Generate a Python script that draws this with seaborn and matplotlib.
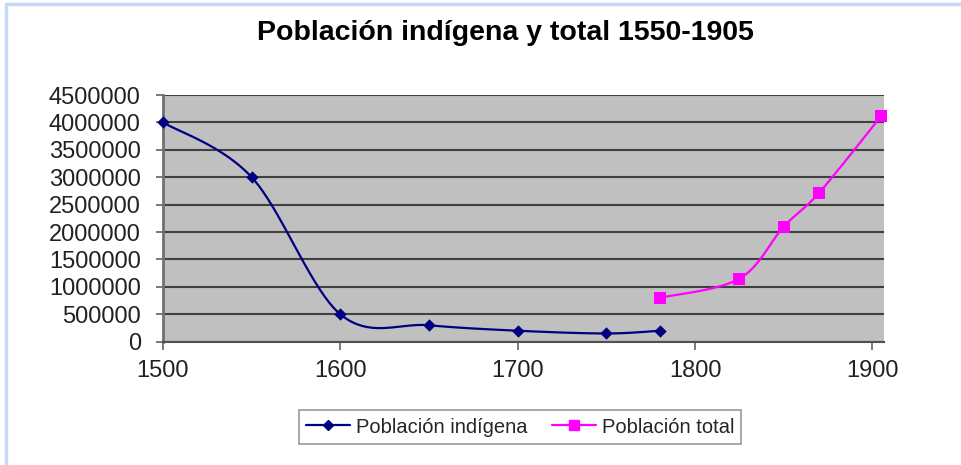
import numpy as np
import pandas as pd
import matplotlib
matplotlib.use("Agg")
import matplotlib.pyplot as plt
import seaborn as sns
from matplotlib.lines import Line2D

# data
anios_indigena = [1500, 1550, 1600, 1650, 1700, 1750, 1780]
pob_indigena = [4000000, 3000000, 500000, 300000, 200000, 150000, 200000]
anios_total = [1780, 1825, 1850, 1870, 1905]
pob_total = [800000, 1150000, 2100000, 2720000, 4120000]
y_ticks = list(range(0, 4500001, 500000))
x_ticks = [1500, 1600, 1700, 1800, 1900]

titulo = "Población indígena y total 1550-1905"
lbl_ind = "Población indígena"
lbl_tot = "Población total"

XLIM = (1500, 1906.5)
YLIM = (0, 4500000)

sns.set_style("white", {"axes.facecolor": "#C0C0C0"})
plt.rcParams["font.family"] = ["Liberation Sans", "DejaVu Sans"]

fig = plt.figure(figsize=(9.61, 4.65), dpi=100)
ax = fig.add_axes([163 / 961, 1 - 341.7 / 465, (884 - 163) / 961, (341.7 - 95) / 465])


def excel_smooth(x, y, wpx, hpx, n=40):
    # excel-like smoothed line: bezier segments with control points 1/6 of neighbour span
    sx = (XLIM[1] - XLIM[0]) / wpx
    sy = (YLIM[1] - YLIM[0]) / hpx
    p = np.column_stack([np.asarray(x, float) / sx, np.asarray(y, float) / sy])
    pts = np.vstack([p[0], p, p[-1]])
    out = []
    t = np.linspace(0, 1, n)[:, None]
    for i in range(1, len(pts) - 2):
        p0, p3 = pts[i], pts[i + 1]
        c1 = p0 + (pts[i + 1] - pts[i - 1]) / 6
        c2 = p3 - (pts[i + 2] - pts[i]) / 6
        seg = (1 - t) ** 3 * p0 + 3 * (1 - t) ** 2 * t * c1 + 3 * (1 - t) * t ** 2 * c2 + t ** 3 * p3
        out.append(seg)
    out = np.vstack(out)
    return out[:, 0] * sx, out[:, 1] * sy


wpx, hpx = 721, 246.7
azul = "#000080"
rosa = "#FF00FF"

xi, yi = excel_smooth(anios_indigena, pob_indigena, wpx, hpx)
xt, yt = excel_smooth(anios_total, pob_total, wpx, hpx)
curvas = pd.concat([
    pd.DataFrame({"x": xi, "y": yi, "serie": lbl_ind, "seg": 0}),
    pd.DataFrame({"x": xt, "y": yt, "serie": lbl_tot, "seg": 1}),
])
sns.lineplot(data=curvas, x="x", y="y", hue="serie", palette={lbl_ind: azul, lbl_tot: rosa},
             sort=False, estimator=None, units="seg", lw=1.6, legend=False, ax=ax, zorder=3)

sns.scatterplot(x=anios_indigena, y=pob_indigena, color=azul, marker="D", s=40,
                linewidth=0, ax=ax, zorder=4, clip_on=False)
sns.scatterplot(x=anios_total, y=pob_total, color=rosa, marker="s", s=80,
                linewidth=0, ax=ax, zorder=4, clip_on=False)

ax.set_xlim(*XLIM)
ax.set_ylim(*YLIM)
ax.set_xticks(x_ticks)
ax.set_yticks(y_ticks)
ax.set_yticklabels([str(v) for v in y_ticks])
ax.set_xlabel("")
ax.set_ylabel("")
ax.yaxis.grid(True, color="#404040", lw=1.5)
ax.set_axisbelow(True)
for side in ["top", "right"]:
    ax.spines[side].set_visible(False)
ax.spines["left"].set_color("#707070")
ax.spines["left"].set_linewidth(2)
ax.spines["bottom"].set_color("#505050")
ax.spines["bottom"].set_linewidth(1.5)
ax.tick_params(axis="y", direction="out", length=5, width=1.3, color="#707070",
               labelsize=17, pad=11, left=True, labelcolor="#222222")
ax.tick_params(axis="x", direction="out", length=6, width=1.3, color="#707070",
               labelsize=17, pad=7, bottom=True, labelcolor="#222222")

fig.text(505 / 961, 1 - 33 / 465, titulo, ha="center", va="center",
         fontsize=20.5, fontweight="bold", color="black")

handles = [
    Line2D([], [], color=azul, marker="D", markersize=5, lw=1.6),
    Line2D([], [], color=rosa, marker="s", markersize=7, lw=1.6),
]
leg = fig.legend(handles, [lbl_ind, lbl_tot], loc="center", bbox_to_anchor=(520 / 961, 1 - 427 / 465),
                 ncol=2, fontsize=14.5, frameon=True, fancybox=False, handlelength=2.2,
                 columnspacing=1.2, handletextpad=0.3, borderpad=0.35)
leg.get_frame().set_edgecolor("#808080")
leg.get_frame().set_facecolor("white")
leg.get_frame().set_linewidth(1.2)

# light blue frame around the chart area
fig.add_artist(Line2D([6 / 961, 6 / 961], [0, 1 - 4 / 465], color="#C6D9F8", lw=2.5))
fig.add_artist(Line2D([6 / 961, 1], [1 - 4 / 465, 1 - 4 / 465], color="#C6D9F8", lw=2.5))

fig.savefig("out.png", dpi=100)
